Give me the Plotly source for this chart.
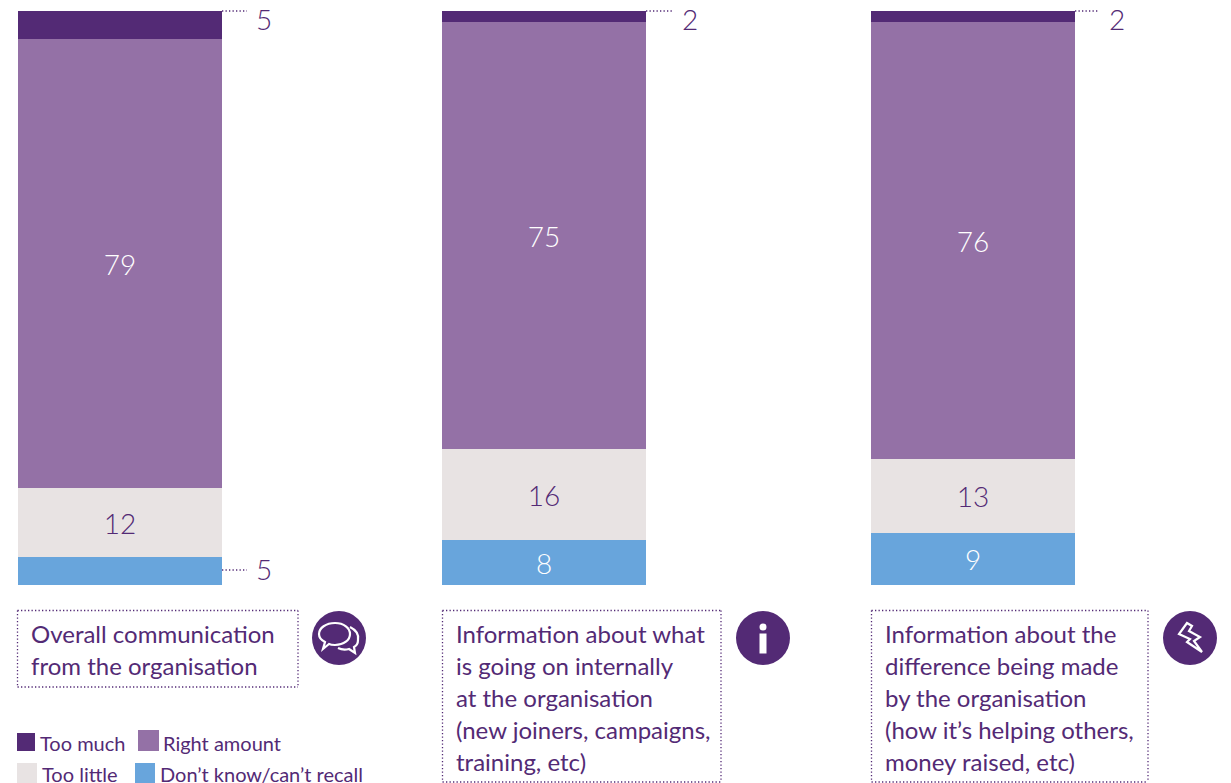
import plotly.graph_objects as go

W, H = 1231, 783

panels = ["Overall communication", "Information about what", "Information about the difference"]
too_much = [5, 2, 2]
right_amount = [79, 75, 76]
too_little = [12, 16, 13]
dont_know = [5, 8, 9]

series = [
    ("Don't know/can't recall", dont_know, "#68A5DC", "white"),
    ("Too little", too_little, "#E8E3E3", "#532A75"),
    ("Right amount", right_amount, "#9471A6", "white"),
    ("Too much", too_much, "#532A75", "white"),
]

box_lines = [
    ["Overall communication", "from the organisation"],
    ["Information about what", "is going on internally", "at the organisation",
     "(new joiners, campaigns,", "training, etc)"],
    ["Information about the", "difference being made", "by the organisation",
     "(how it’s helping others,", "money raised, etc)"],
]

PURPLE = "#532A75"
FONT = "Lato"


def px(x):
    return x / W


def py(y):
    return 1 - y / H


def path(points):
    # points are pixel positions, strings are the svg commands
    out = []
    for p in points:
        if isinstance(p, str):
            out.append(p)
        else:
            out.append(f"{px(p[0]):.5f},{py(p[1]):.5f}")
    return " ".join(out)


fig = go.Figure()
bar_left = [18, 442, 871]
bar_right = [222, 646, 1075]
bar_top, bar_bottom = 11, 585

layout_axes = {}
for i in range(3):
    suffix = "" if i == 0 else str(i + 1)
    total = sum(s[1][i] for s in series)
    for name, vals, color, txt in series:
        small = vals[i] <= 5
        fig.add_trace(go.Bar(
            x=[panels[i]], y=[vals[i]], name=name, marker=dict(color=color, line=dict(width=0)),
            text=[""] if small else [str(vals[i])],
            textposition="inside", insidetextanchor="middle", textangle=0,
            constraintext="none",
            insidetextfont=dict(family=FONT, size=28, color=txt, weight=300),
            xaxis="x" + suffix, yaxis="y" + suffix, showlegend=False, width=1,
        ))
    layout_axes["xaxis" + suffix] = dict(
        domain=[px(bar_left[i]), px(bar_right[i])], anchor="y" + suffix, visible=False,
        type="category", range=[-0.5, 0.5], fixedrange=True)
    layout_axes["yaxis" + suffix] = dict(
        domain=[py(bar_bottom), py(bar_top)], anchor="x" + suffix, visible=False,
        range=[0, total], fixedrange=True)

shapes = []
annotations = []


def text(x, y, s, size, anchor="left", color=PURPLE, weight=400):
    annotations.append(dict(
        x=px(x), y=py(y), xref="paper", yref="paper", text=s, showarrow=False,
        xanchor=anchor, yanchor="middle", borderpad=0,
        font=dict(family=FONT, size=size, color=color, weight=weight),
    ))


def dotted(x0, y0, x1, y1):
    shapes.append(dict(type="line", xref="paper", yref="paper",
                       x0=px(x0), y0=py(y0), x1=px(x1), y1=py(y1),
                       line=dict(color=PURPLE, width=1.3, dash="1.3px,2.2px")))


# leaders and outside labels
dotted(222, 11, 247, 11)
dotted(646, 11, 672, 11)
dotted(1075, 11, 1098, 11)
dotted(222, 570, 247, 570)
text(264, 19, str(too_much[0]), 28, "center", weight=300)
text(690, 19, str(too_much[1]), 28, "center", weight=300)
text(1117, 19, str(too_much[2]), 28, "center", weight=300)
text(264, 569, str(dont_know[0]), 28, "center", weight=300)

# dotted boxes under the bars
boxes = [(17.5, 610.5, 298, 687), (442.5, 610.5, 721, 782), (871.5, 610.5, 1148, 782)]
text_x = [30, 455, 884]
for (x0, y0, x1, y1), lines, tx in zip(boxes, box_lines, text_x):
    dotted(x0, y0, x1, y0)
    dotted(x0, y1, x1, y1)
    dotted(x0, y0, x0, y1)
    dotted(x1, y0, x1, y1)
    for j, line in enumerate(lines):
        text(tx, 633 + 32.2 * j, line, 24)

# icon discs
for cx in [339, 763, 1190]:
    shapes.append(dict(type="circle", xref="paper", yref="paper",
                       x0=px(cx - 27), x1=px(cx + 27), y0=py(638 + 27), y1=py(638 - 27),
                       fillcolor=PURPLE, line=dict(width=0)))

# speech bubbles icon
back = ["M", (350, 627), "C", (356, 630), (359, 635), (358, 640), "C", (358, 644), (356, 646), (354, 647),
        "L", (355, 653), "L", (349, 649), "C", (345, 650), (342, 650), (338, 648)]
front = ["M", (335, 623), "C", (344, 623), (350, 628), (350, 634), "C", (350, 640), (344, 645), (335, 645),
         "C", (333, 645), (331, 645), (329, 644), "L", (323, 649), "L", (325, 642),
         "C", (321, 640), (319, 637), (319, 634), "C", (319, 628), (326, 623), (335, 623), "Z"]
for p, fill in [(back, "rgba(0,0,0,0)"), (front, PURPLE)]:
    shapes.append(dict(type="path", xref="paper", yref="paper", path=path(p),
                       fillcolor=fill, line=dict(color="white", width=2.2)))

# info icon
shapes.append(dict(type="circle", xref="paper", yref="paper",
                   x0=px(759.5), x1=px(766.5), y0=py(630.5), y1=py(623.5),
                   fillcolor="white", line=dict(width=0)))
shapes.append(dict(type="rect", xref="paper", yref="paper",
                   x0=px(759.5), x1=px(766.5), y0=py(653.5), y1=py(633.5),
                   fillcolor="white", line=dict(width=0)))

# lightning icon, outline with a thin dark zigzag inside
bolt = ["M", (1187, 623), "L", (1179, 634), "L", (1190, 639), "L", (1187, 642), "L", (1202, 652),
        "L", (1194, 641), "L", (1200, 637), "L", (1189, 631), "L", (1192, 626), "Z"]
shapes.append(dict(type="path", xref="paper", yref="paper", path=path(bolt),
                   fillcolor=PURPLE, line=dict(color="white", width=2.2)))

# hand placed legend, two uneven rows
legend_rows = [
    (17, 733, 35, 751, "#532A75", "Too much", 38.5, 743),
    (138, 730, 159, 751, "#9471A6", "Right amount", 162, 743),
    (17, 763, 37, 790, "#E8E3E3", "Too little", 41, 774),
    (135, 763, 155, 790, "#68A5DC", "Don’t know/can’t recall", 159, 774),
]
for x0, y0, x1, y1, color, label, tx, ty in legend_rows:
    shapes.append(dict(type="rect", xref="paper", yref="paper",
                       x0=px(x0), x1=px(x1), y0=py(y1), y1=py(y0),
                       fillcolor=color, line=dict(width=0)))
    text(tx, ty, label, 20)

fig.update_layout(
    width=W, height=H, margin=dict(l=0, r=0, t=0, b=0),
    paper_bgcolor="white", plot_bgcolor="white",
    barmode="stack", bargap=0, showlegend=False,
    shapes=shapes, annotations=annotations,
    **layout_axes,
)

fig.write_html("out.html", config=dict(displayModeBar=False),
               post_script="document.body.style.margin='0';")
